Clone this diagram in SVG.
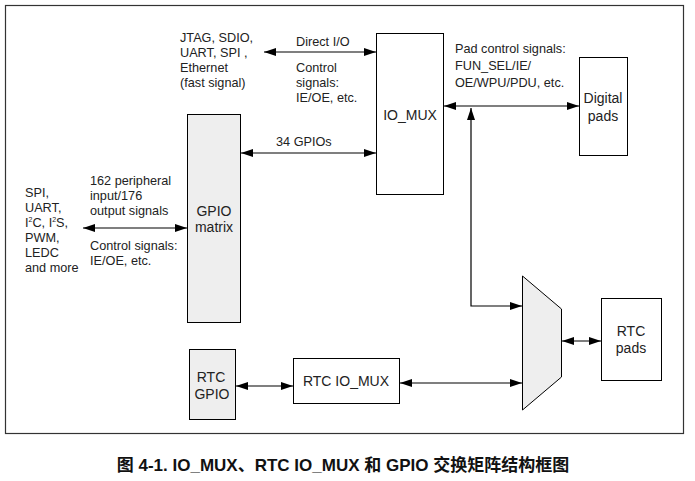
<svg xmlns="http://www.w3.org/2000/svg" width="695" height="481" viewBox="0 0 695 481">
<defs>
<marker id="ah" viewBox="0 0 12 8" refX="12" refY="4" markerWidth="12" markerHeight="8" markerUnits="userSpaceOnUse" orient="auto-start-reverse">
<path d="M0,0 L12,4 L0,8 z" fill="#000"/>
</marker>
<style>
text{font-family:"Liberation Sans",Arial,Helvetica,sans-serif;fill:#222;}
.s{font-size:12.7px;}
.b{font-size:14px;text-anchor:middle;}
.box{fill:#fff;stroke:#000;stroke-width:1;}
.grey{fill:#eee;stroke:#000;stroke-width:1;}
.c{fill:none;stroke:#000;stroke-width:1.2;marker-start:url(#ah);marker-end:url(#ah);}
.cap{font-family:"Liberation Sans","Noto Sans CJK SC",sans-serif;font-size:17px;font-weight:bold;text-anchor:middle;fill:#111;}
</style>
</defs>
<rect x="5.5" y="5.5" width="678" height="428" fill="#fff" stroke="#333" stroke-width="1.2"/>

<g id="connectors">
<path class="c" d="M264,52 H376"/>
<path class="c" d="M241,153 H376"/>
<path class="c" d="M444,106 H579"/>
<path class="c" d="M471,108 V306 H522"/>
<path class="c" d="M83,228 H187"/>
<path class="c" d="M236,386 H293"/>
<path class="c" d="M400,383 H522"/>
<path class="c" d="M562,341 H601"/>
</g>

<g id="gpio-matrix">
<rect class="grey" x="187.5" y="114.5" width="53" height="208"/>
<text class="b" x="214" y="216">GPIO</text>
<text class="b" x="214" y="232">matrix</text>
</g>

<g id="io-mux">
<rect class="box" x="376.5" y="33.5" width="67" height="161"/>
<text class="b" x="410" y="120">IO_MUX</text>
</g>

<g id="digital-pads">
<rect class="box" x="579.5" y="57.5" width="48" height="98"/>
<text class="b" x="603" y="103">Digital</text>
<text class="b" x="603" y="121">pads</text>
</g>

<g id="rtc-mux">
<polygon class="grey" points="522.5,276 561.5,309 561.5,377 522.5,410"/>
</g>

<g id="rtc-pads">
<rect class="box" x="601.5" y="298.5" width="60" height="82"/>
<text class="b" x="631" y="336">RTC</text>
<text class="b" x="631" y="353">pads</text>
</g>

<g id="rtc-io-mux">
<rect class="box" x="293.5" y="358.5" width="106" height="45"/>
<text class="b" x="346" y="386">RTC IO_MUX</text>
</g>

<g id="rtc-gpio">
<rect class="grey" x="189.5" y="349.5" width="46" height="70"/>
<text class="b" x="211" y="382">RTC</text>
<text class="b" x="212" y="399">GPIO</text>
</g>

<g id="labels">
<text class="s" x="180" y="42">JTAG, SDIO,</text>
<text class="s" x="180" y="57">UART, SPI ,</text>
<text class="s" x="180" y="72">Ethernet</text>
<text class="s" x="180" y="87">(fast signal)</text>
<text class="s" x="296" y="46">Direct I/O</text>
<text class="s" x="296" y="72">Control</text>
<text class="s" x="296" y="87">signals:</text>
<text class="s" x="296" y="102">IE/OE, etc.</text>
<text class="s" x="276" y="146">34 GPIOs</text>
<text class="s" x="455" y="53">Pad control signals:</text>
<text class="s" x="455" y="70">FUN_SEL/IE/</text>
<text class="s" x="455" y="87">OE/WPU/PDU, etc.</text>
<text class="s" x="25" y="197">SPI,</text>
<text class="s" x="25" y="212">UART,</text>
<text class="s" x="25" y="227">I<tspan font-size="7" dy="-5">2</tspan><tspan dy="5">C, I</tspan><tspan font-size="7" dy="-5">2</tspan><tspan dy="5">S,</tspan></text>
<text class="s" x="25" y="242">PWM,</text>
<text class="s" x="25" y="257">LEDC</text>
<text class="s" x="25" y="272">and more</text>
<text class="s" x="90" y="185">162 peripheral</text>
<text class="s" x="90" y="200">input/176</text>
<text class="s" x="90" y="215">output signals</text>
<text class="s" x="90" y="250">Control signals:</text>
<text class="s" x="90" y="265">IE/OE, etc.</text>
</g>

<text class="cap" x="343" y="471">图 4-1. IO_MUX、RTC IO_MUX 和 GPIO 交换矩阵结构框图</text>
</svg>
